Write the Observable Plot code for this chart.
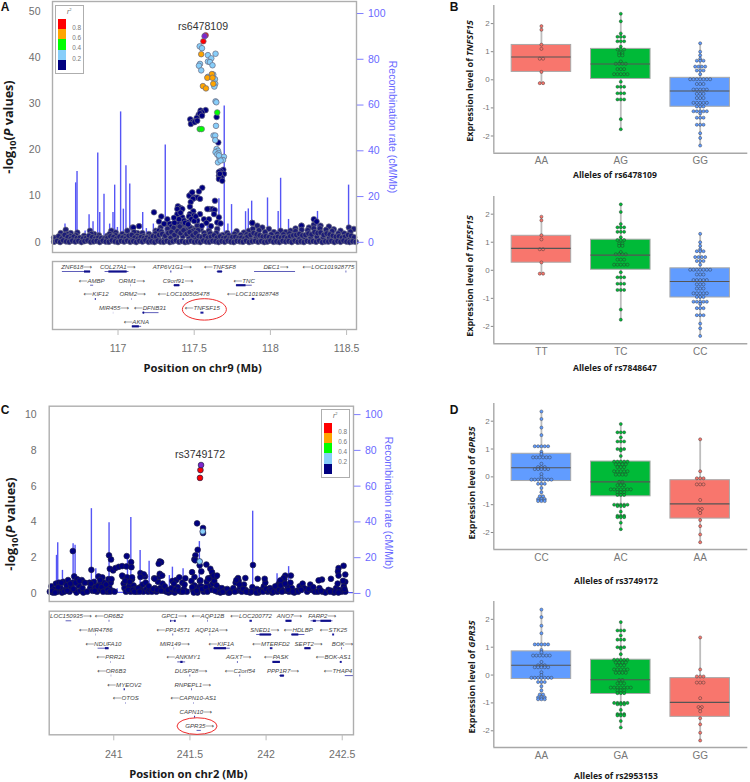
<!DOCTYPE html>
<html>
<head>
<meta charset="utf-8">
<script src="https://cdn.jsdelivr.net/npm/d3@7"></script>
<script src="https://cdn.jsdelivr.net/npm/@observablehq/plot@0.6"></script>
<style>
html,body{margin:0;padding:0;background:#fff}
#root{position:relative;width:750px;height:782px;overflow:hidden;font-family:"Liberation Sans",Arial,sans-serif}
#root svg{position:absolute;background:transparent;overflow:visible}
.t{position:absolute;white-space:nowrap;line-height:1}
</style>
</head>
<body>
<div id="root"></div>
<script>
// ---------- Locus A (chr9) ----------
const spikeAx=[116.652,116.722,116.731,116.784,116.81,116.836,116.867,116.88,116.908,116.945,116.967,116.978,116.996,117.017,117.035,117.052,117.077,117.162,117.186,117.232,117.31,117.531,117.586,117.662,117.697,117.721,117.745,117.837,117.855,117.877,117.981,118.051,118.067,118.119,118.309,118.513];
const spikeArate=[8,26,31,5,12,9,39,13,21,8,13,25,6.5,57,14.5,33.5,25.5,13,6,8,42.5,9.5,7,19,59.6,8,16.5,13.4,14.6,18,19.4,13.5,28,10,13.5,25];
const lowA=[[116.58,.1],[116.6,.3],[116.62,.05],[116.64,.4],[116.66,.2],[116.68,.1],[116.7,.35],[116.72,.15],[116.74,.3],[116.76,.05],[116.78,.25],[116.8,.4],[116.82,.1],[116.84,.2],[116.86,.3],[116.88,.05],[116.9,.35],[116.92,.15],[116.94,.1],[116.96,.4],[116.98,.2],[117,.05],[117.02,.3],[117.04,.15],[117.06,.35],[117.08,.1],[117.1,.25],[117.12,.05],[117.14,.3],[117.16,.15],[117.18,.4],[117.2,.1],[117.22,.2],[117.24,.05],[117.26,.35],[117.28,.15],[117.3,.1],[117.32,.3],[117.34,.05],[117.36,.2],[117.38,.4],[117.4,.1],[117.42,.25],[117.44,.05],[117.46,.15],[117.48,.3],[117.5,.1],[117.52,.2],[117.54,.05],[117.56,.35],[117.58,.15],[117.6,.1],[117.62,.3],[117.64,.2],[117.66,.05],[117.68,.25],[117.7,.1],[117.72,.35],[117.74,.15],[117.76,.05],[117.78,.3],[117.8,.2],[117.82,.1],[117.84,.35],[117.86,.05],[117.88,.2],[117.9,.3],[117.92,.1],[117.94,.25],[117.96,.05],[117.98,.15],[118,.35],[118.02,.1],[118.04,.2],[118.06,.05],[118.08,.3],[118.1,.15],[118.12,.25],[118.14,.05],[118.16,.35],[118.18,.1],[118.2,.2],[118.22,.05],[118.24,.3],[118.26,.15],[118.28,.25],[118.3,.1],[118.32,.35],[118.34,.05],[118.36,.2],[118.38,.15],[118.4,.3],[118.42,.05],[118.44,.25],[118.46,.1],[118.48,.35],[118.5,.15],[118.52,.05],[118.54,.2],[118.56,.1]];
const midA=[[116.59,.9],[116.61,1.3],[116.63,.8],[116.65,1.6],[116.67,1.1],[116.69,.8],[116.71,1.2],[116.73,.9],[116.75,1],[116.77,.8],[116.79,.9],[116.81,1.4],[116.83,1.1],[116.85,.8],[116.87,1],[116.89,.9],[116.91,.8],[116.93,.9],[116.95,1.3],[116.97,1.1],[116.99,.8],[117.01,1.2],[117.03,1],[117.05,.8],[117.07,1.4],[117.09,1.6],[117.11,1],[117.13,.8],[117.15,1.1],[117.17,.9],[117.19,1],[117.21,.8],[117.23,1.3],[117.25,1.2],[117.27,1.6],[117.29,1.8],[117.31,1.4],[117.33,2],[117.35,2.2],[117.37,1.6],[117.39,2.4],[117.41,2],[117.43,2.6],[117.45,1.8],[117.47,2.2],[117.49,1.5],[117.51,2],[117.53,1.3],[117.55,1.1],[117.57,1.4],[117.59,1],[117.61,1.2],[117.63,1.5],[117.65,1],[117.67,1.3],[117.69,.9],[117.71,1],[117.73,.8],[117.75,1.1],[117.77,1.2],[117.79,.9],[117.81,1],[117.83,.8],[117.85,1.2],[117.87,1.6],[117.89,2],[117.91,1.7],[117.93,1.5],[117.95,1.2],[117.97,1.3],[117.99,1.1],[118.01,.9],[118.03,1],[118.05,1.2],[118.07,1],[118.09,1.1],[118.11,.9],[118.13,1.3],[118.15,1.5],[118.17,1.6],[118.19,1.8],[118.21,1.5],[118.23,1.6],[118.25,1.9],[118.27,1.7],[118.29,2.2],[118.31,2],[118.33,2.1],[118.35,1.6],[118.37,1.9],[118.39,1.7],[118.41,1.4],[118.43,1.2],[118.45,1.3],[118.47,1],[118.49,1.2],[118.51,1.6],[118.53,1.4],[118.55,1.1]];
const fillA=[[116.585,.6],[116.605,.7],[116.625,1.2],[116.645,1],[116.665,1.8],[116.685,1.4],[116.705,.7],[116.725,1.5],[116.745,.6],[116.765,.7],[116.785,.6],[116.805,.8],[116.825,1.8],[116.845,.6],[116.865,.7],[116.885,.6],[116.905,.7],[116.925,.6],[116.945,1.8],[116.965,.7],[116.985,1.5],[117.005,.6],[117.025,.7],[117.045,1.3],[117.065,.7],[117.085,.7],[117.105,2.2],[117.125,1.4],[117.145,.6],[117.165,1.3],[117.185,.6],[117.205,1.2],[117.225,.7],[117.245,1.9],[117.265,.8],[117.285,2.3],[117.305,.8],[117.325,2.9],[117.345,1],[117.365,3.1],[117.385,1.2],[117.405,3.4],[117.425,1.3],[117.445,2.6],[117.465,1],[117.485,2.4],[117.505,1],[117.525,2.6],[117.545,.8],[117.565,2],[117.585,.7],[117.605,1.9],[117.625,.8],[117.645,2],[117.665,.8],[117.685,1.6],[117.705,.6],[117.725,1.5],[117.745,.7],[117.765,1.8],[117.785,.6],[117.805,1.6],[117.825,.6],[117.845,1.7],[117.865,.8],[117.885,2.9],[117.905,1],[117.925,2.6],[117.945,1],[117.965,2.2],[117.985,.7],[118.005,1.7],[118.025,.6],[118.045,1.8],[118.065,.6],[118.085,1.7],[118.105,.6],[118.125,1.9],[118.145,.8],[118.165,2.4],[118.185,1],[118.205,2.7],[118.225,1],[118.245,2.6],[118.265,1],[118.285,3],[118.305,1.2],[118.325,3],[118.345,1],[118.365,2.7],[118.385,1],[118.405,2.4],[118.425,.7],[118.445,1.9],[118.465,.7],[118.485,1.9],[118.505,.7],[118.525,2.3],[118.545,.7]];
const topA=[[116.58,1],[116.624,2],[116.657,2.7],[116.69,2],[116.733,2.1],[116.777,1.4],[116.816,2.5],[116.843,1.8],[116.875,1.5],[116.93,1.4],[116.956,2.5],[116.985,2.1],[117.028,1.8],[117.061,2.5],[117.094,3.2],[117.127,2],[117.16,2],[117.203,1.8],[117.247,2.5],[117.28,3.2],[117.324,3.9],[117.367,4],[117.411,4.2],[117.455,3.6],[117.487,3],[117.52,3.6],[117.542,2.8],[117.597,2.5],[117.651,2.9],[117.717,2],[117.778,2.4],[117.826,2.1],[117.859,2.5],[117.881,4.2],[117.914,3.6],[117.947,3.2],[117.99,2.9],[118.023,2.2],[118.067,2.5],[118.1,2.2],[118.132,2.5],[118.165,3],[118.204,3.6],[118.253,3.2],[118.285,3.8],[118.329,3.6],[118.384,3.4],[118.416,2.8],[118.46,2.5],[118.515,3.2],[118.548,2.9],[117.34,3],[117.38,3.2],[117.42,3.4],[117.44,2.9],[117.47,3.3],[117.5,2.6],[117.4,2.8],[117.36,2.7]];
const navyA=[[118.285,5],[118.303,4.5],[118.204,3.6],[117.881,4.2],[117.553,11.8],[117.531,11],[117.481,10.5],[117.468,10.1],[117.487,10.8],[117.505,9.7],[117.52,9.7],[117.538,9.4],[117.492,9.4],[117.636,9],[117.477,8.7],[117.472,7.7],[117.393,7.8],[117.411,7.4],[117.422,7.2],[117.389,7.2],[117.597,7.2],[117.619,7.2],[117.634,7],[117.586,7.2],[117.494,6.7],[117.236,6.5],[117.472,6.1],[117.538,6.1],[117.498,5.8],[117.466,5.6],[117.284,5.6],[117.389,6.1],[117.367,5.3],[117.324,5],[117.269,4.5],[117.662,5.4],[117.564,5],[117.597,5],[117.63,6.1],[117.481,5],[117.422,5.4],[117.433,4.7],[117.389,4.3],[117.302,4],[117.651,4.3],[117.673,4.1],[117.455,4.3],[117.52,4.7],[117.341,4],[117.138,3.5],[117.101,3.2],[117.269,2.5],
[117.691,15.7],[117.673,15.4],[117.662,15.2],[117.695,14.8],[117.662,14.4],[117.678,14.1],[117.662,13.7],[117.684,13.3],[117.668,14.8],
[117.575,28.6],[117.542,28.5],[117.551,28.1],[117.529,27.6],[117.538,27.9],[117.516,26.9],[117.551,27.4],[117.503,26.2],[117.474,26.6],[117.487,26],[117.478,25.6],[117.503,26],[117.52,26.3],[117.647,27.1],[117.658,21.6],
[117.4,5],[117.41,6.4],[117.44,4.2],[117.46,3.9],[117.5,4.6],[117.51,5.6],[117.55,3.6],[117.58,4.2],[117.61,3.5],[117.35,3.4],[117.37,4.2]];
const skyA=[[117.536,42.4],[117.551,42],[117.59,40.5],[117.64,40.8],[117.612,39.8],[117.59,39.1],[117.603,39],[117.62,38.3],[117.538,38.6],[117.531,38.2],[117.546,37.2],[117.625,36.3],[117.59,35.8],[117.636,35.3],[117.638,34.3],[117.632,33.7],[117.64,30.5],[117.645,30.3],[117.643,25.2],[117.627,23.1],[117.638,23.1],[117.638,22.1],[117.647,20.2],[117.656,19.8],[117.64,19.5],[117.66,19.3],[117.651,19],[117.665,18.4],[117.695,18.5],[117.689,17.8],[117.669,18],[117.656,17.3],[117.673,17.7],[117.662,18.8]];
const orangeA=[[117.546,40.7],[117.616,36.4],[117.586,35.6],[117.62,35.6],[117.625,34.3],[117.557,33.8],[117.577,33.3]];
const greenA=[[117.651,28.1],[117.536,24.5],[117.549,24.5]];
const redA=[[117.575,44.8],[117.56,43.5]];
const leadA=[[117.568,44.6]];

const geneNameA=["ZNF618","COL27A1","ATP6V1G1","TNFSF8","DEC1","LOC101928775","AMBP","ORM1","C9orf91","TNC","KIF12","ORM2","LOC100505478","LOC101928748","MIR455","DFNB31","TNFSF15","AKNA"];
const geneDirA=[1,1,1,-1,1,-1,-1,1,1,-1,-1,1,-1,-1,1,-1,-1,-1];
const geneRowA=[0,0,0,0,0,0,1,1,1,1,2,2,2,2,3,3,3,4];
const geneLabelA=[116.729,116.998,117.356,117.669,118.036,118.381,116.827,117.09,117.393,117.828,116.856,117.096,117.431,117.885,116.974,117.21,117.553,117.12];
const geneStartA=[116.635,116.915,117.347,117.651,117.896,118.497,116.82,117.084,117.367,117.776,116.851,117.089,117.427,117.881,116.97,117.162,117.544,117.094];
const geneEndA=[116.821,117.072,117.353,117.688,118.165,118.501,116.84,117.086,117.411,117.881,116.857,117.091,117.433,117.898,116.971,117.269,117.564,117.155];
const exonA=[[0,116.78,116.82],[0,116.94,117.06],[0,117.655,117.685],[1,117.778,117.84],[3,117.165,117.175],[4,117.094,117.14],[1,117.37,117.405]];

// ---------- Locus C (chr2) ----------
const spikeCx=[240.624,240.632,240.663,240.733,240.746,240.853,240.882,240.969,241.022,241.09,241.112,241.173,241.232,241.302,241.365,241.385,241.455,241.562,241.912,242.072,242.148];
const spikeCrate=[21.3,28.4,12.9,27.8,26.9,47.4,13.8,39.6,2.6,21.3,42.4,24,18,12,10,14.7,13.8,29,46,11,15];
const navyC=[[240.58,.1],[240.59,.4],[240.6,.05],[240.61,.25],[240.62,.55],[240.63,.1],[240.64,.6],[240.65,.3],[240.66,.05],[240.67,.65],[240.68,.2],[240.69,.45],[240.7,.75],[240.71,.1],[240.72,.35],[240.73,.6],[240.74,.95],[240.745,.2],[240.755,.05],[240.76,.8],[240.77,.45],[240.78,.15],[240.79,.75],[240.8,.05],[240.84,.6],[240.845,.3],[240.86,.15],[240.87,.65],[240.88,.35],[240.89,.1],[240.9,.95],[240.905,.5],[240.915,.2],[240.925,.9],[240.935,.6],[240.945,.25],[240.955,.1],[240.965,.8],[240.97,.35],[240.98,.6],[240.99,.15],[241.06,.95],[241.065,.55],[241.07,.3],[241.08,.1],[241.09,.85],[241.1,.4],[241.11,.1],[241.12,.8],[241.13,.45],[241.14,.25],[241.15,.1],[241.175,.35],[241.185,.15],[241.195,.1],[241.205,.95],[241.215,.25],[241.225,.1],[241.235,.2],[241.25,.1],[241.265,.85],[241.27,.3],[241.28,.1],[241.29,.65],[241.3,.95],[241.305,.3],[241.32,.55],[241.33,.15],[241.345,.1],[241.36,.05],[241.375,.1],[241.385,.7],[241.39,.25],[241.4,.05],[241.41,.75],[241.42,.35],[241.43,.9],[241.44,.1],[241.45,.6],[241.46,.25],[241.47,.85],[241.48,.1],[241.51,.7],[241.52,.2],[241.53,.45],[241.55,.05],[241.56,.35],[241.565,.7],[241.575,.4],[241.59,.1],[241.6,.2],[241.61,.65],[241.62,.85],[241.63,.4],[241.64,.9],[241.65,.55],[241.66,.7],[241.67,.95],[241.68,.1],[241.69,.3],[241.7,.05],[241.71,.3],[241.72,.1],[241.735,.2],[241.75,.05],[241.77,.15],[241.785,.3],[241.8,.6],[241.81,.15],[241.82,.7],[241.83,.35],[241.84,.1],[241.855,.5],[241.865,.2],[241.88,.1],[241.895,.05],[241.91,.35],[241.925,.15],[241.94,.25],[241.95,.05],[241.97,.2],[241.985,.4],[241.995,.6],[242.01,.1],[242.025,.3],[242.04,.05],[242.055,.2],[242.07,.35],[242.08,.5],[242.09,.65],[242.1,.25],[242.11,.55],[242.12,.8],[242.13,.15],[242.14,.4],[242.15,.1],[242.17,.3],[242.185,.05],[242.2,.15],[242.22,.4],[242.24,.55],[242.25,.3],[242.27,.1],[242.29,.5],[242.3,.2],[242.32,.1],[242.35,.3],[242.37,.1],[242.39,.05],[242.41,.2],[242.43,.15],[242.445,.05],[242.46,.3],[242.47,.55],[242.48,.2],[242.495,.1],[242.51,.4],[242.52,.65],[242.52,.1],
[240.731,2.37],[240.853,1.32],[240.969,2.13],[240.982,1.9],[240.974,1.38],[240.996,1.29],[241.011,1.42],[241.033,1.49],[241.055,1.53],[241.085,2.09],[241.083,1.51],[241.114,1.75],[241.116,1.47],[241.055,1],[241.088,.9],[241.12,.9],[241.175,1.14],[241.197,1.07],[241.175,.92],[241.302,1.79],[241.311,1.75],[241.295,1.66],[241.302,1.1],[241.318,1],[241.27,.82],[241.547,3.92],[241.586,3.66],[241.586,3.38],[241.551,2.44],[241.536,2.13],[241.529,1.9],[241.535,1.85],[241.564,1.57],[241.608,1.62],[241.575,1.23],[241.634,1.38],[241.645,1.19],[241.514,1.19],[241.53,.92],[241.656,1],[241.678,1],[241.569,.73],[241.623,.82],[241.914,1.59],[242.509,1.55],[242.476,1.42],[242.472,1.23],[242.52,1.06],[242.476,1],[242.426,.82],[242.367,.78],[242.345,.73],[242.163,1],[242.126,1],[242.115,.86],[242.094,.73],[241.991,.82],[241.945,.82],[241.864,.86],[241.816,.86],[241.805,.75],
[240.595,.15],[240.615,.05],[240.635,.35],[240.655,.6],[240.675,.1],[240.695,.15],[240.715,.55],[240.735,.25],[240.75,.6],[240.775,.7],[240.795,.3],[240.81,.6],[240.825,.1],[240.85,.55],[240.875,.15],[240.895,.4],[240.91,.75],[240.92,.35],[240.93,.1],[240.95,.5],[240.96,.2],[240.975,.1],[240.985,.8],[241.005,.1],[241.075,.7],[241.095,.2],[241.105,.65],[241.125,.2],[241.135,.1],[241.16,.3],[241.17,.1],[241.19,.5],[241.21,.6],[241.23,.4],[241.26,.25],[241.285,.2],[241.31,.15],[241.335,.4],[241.355,.2],[241.38,.3],[241.395,.55],[241.405,.2],[241.425,.15],[241.455,.1],[241.465,.5],[241.515,.35],[241.525,.05],[241.545,.15],[241.58,.25],[241.605,.35],[241.615,.1],[241.645,.2],[241.665,.15],[241.675,.45],[241.715,.1],[241.745,.25],[241.76,.05],[241.795,.1],[241.825,.5],[241.85,.25],[241.87,.1],[241.905,.1],[241.935,.05],[241.96,.15],[241.98,.1],[242.0,.25],[242.02,.15],[242.035,.2],[242.05,.1],[242.06,.4],[242.075,.1],[242.085,.2],[242.095,.45],[242.105,.1],[242.125,.55],[242.145,.2],[242.16,.6],[242.175,.1],[242.21,.1],[242.23,.2],[242.28,.25],[242.31,.35],[242.34,.1],[242.36,.15],[242.42,.1],[242.455,.1],[242.475,.05],[242.505,.7],[242.515,.25]];
const skyC=[[241.584,3.47],[241.564,1.79]];
const redC=[[241.569,6.9],[241.566,6.46]];
const leadC=[[241.573,7.18]];
const lowLineCx=[240.58,240.8,240.98,241.01,241.3,241.6,241.8,242.2,242.57];
const lowLineCrate=[.8,5.5,1.2,.6,.8,3,1,.8,.5];

const geneNameC=["LOC150935","OR6B2","GPC1","AQP12B","LOC200772","ANO7","FARP2","MIR4786","PP14571","AQP12A","SNED1","HDLBP","STK25","NDUFA10","MIR149","KIF1A","MTERFD2","SEPT2","BOK","PRR21","ANKMY1","AGXT","PASK","BOK-AS1","OR6B3","DUSP28","C2orf54","PPP1R7","THAP4","MYEOV2","RNPEPL1","OTOS","CAPN10-AS1","CAPN10","GPR35"];
const geneDirC=[1,-1,1,-1,-1,1,1,-1,-1,1,1,-1,-1,-1,1,-1,-1,1,1,-1,-1,1,-1,-1,-1,1,-1,1,-1,-1,1,-1,-1,1,1];
const geneRowC=[0,0,0,0,0,0,0,1,1,1,1,1,1,2,2,2,2,2,2,3,3,3,3,3,4,4,4,4,4,5,5,6,6,7,8];
const geneLabelC=[240.718,240.969,241.396,241.619,241.901,242.153,242.369,240.882,241.391,241.641,241.991,242.212,242.443,240.932,241.4,241.706,242.032,242.279,242.502,240.98,241.457,241.82,242.067,242.441,240.985,241.507,241.829,242.111,242.472,241.07,241.518,241.079,241.523,241.538,241.564];
const geneStartC=[240.687,240.97,241.374,241.618,241.894,242.131,242.295,240.883,241.389,241.633,241.938,242.168,242.437,240.897,241.397,241.656,242.028,242.253,242.498,240.981,241.42,241.812,242.045,242.487,240.984,241.501,241.829,242.089,242.52,241.068,241.512,241.08,241.524,241.531,241.547];
const geneEndC=[240.724,240.974,241.409,241.621,241.91,242.17,242.439,240.885,241.393,241.636,242.039,242.255,242.45,240.969,241.399,241.765,242.045,242.295,242.502,240.983,241.472,241.816,242.094,242.5,240.986,241.505,241.833,242.122,242.575,241.076,241.516,241.082,241.526,241.537,241.575];
const exonC=[[0,241.374,241.38],[0,241.4,241.409],[0,242.131,242.17],[0,242.31,242.33],[0,242.36,242.43],[1,241.96,242.035],[1,242.17,242.215],[2,240.945,240.969],[2,241.66,241.74],[2,242.255,242.295],[3,241.44,241.455],[3,242.045,242.094],[4,242.095,242.12]];

const ticksA=[117,117.5,118,118.5];
const ticksC=[241,241.5,242,242.5];
const rateTicks=[0,20,40,60,80,100];
const legendColors=["#ff0000","#ffa500","#00ff00","#87cefa","#000080"];
const legendLabels=["0.8","0.6","0.4","0.2"];

// ---------- Expression panels ----------
const redColor="#f8766d", greenColor="#00ba38", blueColor="#619cff";
const tnfAA=[1.91,1.78,1.25,1.1,.75,.75,.28,-.12,-.12];
const tnfAG=[2.35,2.08,1.65,1.53,1.53,1.53,1.37,1.37,1.37,1.18,1.08,1.08,1.08,.95,.95,.87,.87,.65,.57,.57,.57,.57,.38,.38,.38,.2,.2,.2,.2,.2,-.07,-.25,-.25,-.25,-.48,-.48,-.48,-.7,-.7,-.7,-1.4,-1.76];
const tnfGG=[1.3,1,.87,.75,.68,.68,.68,.47,.47,.47,.47,.33,.33,.33,.2,.02,.02,.02,.02,.02,.02,.02,-.15,-.15,-.15,-.35,-.35,-.35,-.35,-.35,-.5,-.5,-.5,-.65,-.65,-.65,-.82,-.82,-.82,-.82,-.82,-.95,-.95,-.95,-1.12,-1.12,-1.12,-1.12,-1.12,-1.2,-1.35,-1.35,-1.35,-1.6,-1.6,-1.6,-1.9,-2.07,-2.34];
const gprCC=[2.35,2.08,1.77,1.5,1.1,1.1,1.1,1.1,1.1,.9,.82,.7,.7,.7,.7,.7,.7,.47,.35,.35,.35,.28,.28,.28,.28,.28,.1,0,-.1,-.1,-.1,-.1,-.1,-.1,-.1,-.25,-.25,-.25,-.4,-.55,-.7,-.7,-.8,-.8,-.8,-.87,-.87,-.87];
const gprAC=[1.9,1.6,1.6,1.6,1.42,1.27,1.27,1.27,1,1,1,.95,.75,.55,.55,.55,.55,.55,.45,.45,.45,.45,.35,.35,.35,.2,.2,.2,.2,.2,.08,.08,.08,.08,-.18,-.18,-.3,-.3,-.3,-.45,-.45,-.45,-.45,-.45,-.45,-.45,-.55,-.55,-.55,-.65,-.65,-.65,-1,-1,-1,-1,-1,-1.05,-1.05,-1.05,-1.25,-1.4,-1.4,-1.4,-1.45,-1.45,-1.45,-1.65,-1.88];
const gprAA=[1.35,.2,-.05,-.05,-.05,-.27,-.27,-.27,-.83,-1.15,-1.15,-1.2,-1.3,-1.55,-1.77,-2.07,-2.35];

const b1Cats=["AA","AG","GG"], b2Cats=["TT","TC","CC"], d1Cats=["CC","AC","AA"], d2Cats=["AA","GA","GG"];
const b1Q1=[.28,.03,-.96], b1Med=[.81,.56,-.4], b1Q3=[1.24,1.1,.07];
const b2Q1=[.27,.02,-.97], b2Med=[.78,.54,-.4], b2Q3=[1.23,1.09,.07];
const d1Q1=[-.15,-.7,-1.5], d1Med=[.33,-.18,-.97], d1Q3=[.83,.55,-.12];
const d2Q1=[-.14,-.68,-1.5], d2Med=[.35,-.17,-.98], d2Q3=[.85,.55,-.11];
const yTicks=[-2,-1,0,1,2];

// ---------- helpers ----------
const root=document.getElementById("root");
const SANS='"Liberation Sans","DejaVu Sans",sans-serif';
const HEAD='"Open Sans",Lato,sans-serif';
function place(svg,left,top){svg.style.left=left+"px";svg.style.top=top+"px";root.appendChild(svg);return svg;}
function label(html,x,y,o={}){
  const d=document.createElement("div");d.className="t";d.innerHTML=html;
  d.style.left=x+"px";d.style.top=y+"px";
  d.style.fontSize=(o.size||10)+"px";d.style.fontFamily=o.font||SANS;
  d.style.fontWeight=o.weight||400;d.style.color=o.color||"#222";
  d.style.transform=`translate(-50%,-50%) rotate(${o.rotate||0}deg)`;
  root.appendChild(d);return d;
}
const table=(pairs)=>pairs.map(([x,y])=>({x,y}));

function locus(o){
  const k=o.k;
  const spikes=o.spikeX.map((x,i)=>({x,y:o.spikeRate[i]*k}));
  const dotsOpt=(f)=>({x:"x",y:"y",r:o.r,fill:f,stroke:o.dotStroke,strokeWidth:.7});
  const marks=[
    Plot.ruleX(spikes,{x:"x",y1:0,y2:"y",stroke:"#5555f5",strokeWidth:1.4}),
    o.lowLine?Plot.line(o.lowLine.x.map((x,i)=>({x,y:o.lowLine.rate[i]*k})),{x:"x",y:"y",stroke:"#5555f5",strokeWidth:1.2}):null,
    ...o.groups.map(([d,f])=>Plot.dot(table(d),dotsOpt(f))),
    Plot.frame({stroke:"#aeaeae",strokeWidth:1.4}),
    Plot.axisY({anchor:"left",ticks:o.yTicks,tickSize:0,tickPadding:o.pad,fontSize:10.5,label:null,tickFormat:d=>d,fill:"#6e6e6e"}),
    Plot.axisY({anchor:"right",ticks:rateTicks.map(r=>r*k),tickSize:6.5,tickPadding:5,fontSize:10.5,stroke:"#7f7fff",fill:"#6a6aff",label:null,tickFormat:d=>Math.round(d/k)})
  ];
  const p=Plot.plot({width:o.w,height:o.h,marginLeft:o.ml,marginRight:o.w-o.ml-o.fw,marginTop:o.mt,marginBottom:o.h-o.mt-o.fh,
    x:{domain:o.xDomain,axis:null},y:{domain:o.yDomain,axis:null},style:{fontFamily:SANS,background:"transparent"},marks});
  place(p,o.left,o.top);
}
function genes(o){
  const rows=o.name.map((n,i)=>({n,row:o.row[i],c:o.label[i],s:o.start[i],e:o.end[i],
    txt:o.dir[i]>0?n+"\u27F6":"\u27F5"+n}));
  const ex=o.exon.map(([row,s,e])=>({row,s,e}));
  const p=Plot.plot({width:o.w,height:o.h,marginLeft:o.ml,marginRight:o.w-o.ml-o.fw,marginTop:o.mt,marginBottom:o.h-o.mt-o.fh,
    x:{domain:o.xDomain,axis:null},y:{domain:o.yDomain,axis:null},style:{fontFamily:SANS,background:"transparent"},
    marks:[
      Plot.ruleY(rows,{y:"row",x1:"s",x2:"e",stroke:"#1a1a9c",strokeWidth:d=>(d.e-d.s)<.02?2:.7}),
      Plot.ruleY(ex,{y:"row",x1:"s",x2:"e",stroke:"#10108c",strokeWidth:2.2}),
      Plot.text(rows,{x:"c",y:"row",text:"txt",dy:-4.6,fontSize:6.1,fontStyle:"italic",fill:"#444",fontFamily:SANS}),
      Plot.frame({stroke:"#aeaeae",strokeWidth:1.4}),
      Plot.axisX({ticks:o.ticks,tickSize:6,tickPadding:o.pad,fontSize:10.5,stroke:"#bbb",fill:"#6e6e6e",label:null,tickFormat:d=>d})
    ]});
  place(p,o.left,o.top);
  d3.select(p).append("ellipse").attr("cx",p.scale("x").apply(o.ellipse[0])).attr("cy",p.scale("y").apply(o.ellipse[1]))
    .attr("rx",o.ellipse[2]).attr("ry",o.ellipse[3]).attr("fill","none").attr("stroke","#ee2b2b").attr("stroke-width",1);
}
function legend(x,y){
  const box=document.createElement("div");
  box.style.cssText=`position:absolute;left:${x}px;top:${y}px;width:27px;height:67px;border:1.4px solid #aeaeae;background:#fff;box-sizing:content-box`;
  legendColors.forEach((c,i)=>{
    const s=document.createElement("div");
    s.style.cssText=`position:absolute;left:2px;top:${12.5+i*10.3}px;width:8.4px;height:10.3px;background:${c}`;
    box.appendChild(s);
  });
  root.appendChild(box);
  label("<i>r</i><sup style='font-size:4px'>2</sup>",x+14.5,y+6.5,{size:6.5,color:"#666"});
  legendLabels.forEach((t,i)=>label(t,x+22,y+22.5+i*10.3,{size:6.4,color:"#777"}));
}
function boxPanel(o){
  const colors=o.colors;
  const boxes=o.cats.map((c,i)=>({i,q1:o.q1[i],q3:o.q3[i],med:o.med[i],fill:colors[i],lo:d3.min(o.values[i]),hi:d3.max(o.values[i])}));
  const dots=[];
  o.values.forEach((vals,i)=>{
    const byV=d3.group(vals,v=>v);
    for(const [v,list] of byV){
      list.forEach((_,j)=>dots.push({x:i+(j-(list.length-1)/2)*.042,y:v,fill:colors[i]}));
    }
  });
  const p=Plot.plot({width:290,height:o.bottom-o.topPx+24,marginLeft:33.3,marginRight:2.7,marginTop:3,marginBottom:21,
    x:{domain:[-.6,2.6],axis:null},y:{domain:o.yDomain,axis:null},style:{fontFamily:SANS,background:"transparent"},
    marks:[
      Plot.ruleX(boxes,{x:"i",y1:"lo",y2:"hi",stroke:"#bdbdbd",strokeWidth:1.8}),
      Plot.rect(boxes,{x1:d=>d.i-.375,x2:d=>d.i+.375,y1:"q1",y2:"q3",fill:"fill",stroke:"#a8a8a8",strokeWidth:1}),
      Plot.dot(dots,{x:"x",y:"y",r:1.55,fill:"fill",stroke:"#2b2b2b",strokeWidth:.55,strokeOpacity:.75}),
      Plot.ruleY(boxes,{x1:d=>d.i-.375,x2:d=>d.i+.375,y:"med",stroke:"#555",strokeWidth:1.1}),
      Plot.ruleX([-.6],{stroke:"#a8a8a8",strokeWidth:1.4}),
      Plot.ruleY([o.yDomain[0]],{stroke:"#a8a8a8",strokeWidth:1.4}),
      Plot.axisY({ticks:yTicks,tickSize:2.5,tickPadding:1.5,fontSize:8,stroke:"#888",fill:"#777",label:null,tickFormat:d=>d}),
      Plot.axisX({ticks:[0,1,2],tickSize:0,tickPadding:4,fontSize:10,fill:"#777",label:null,tickFormat:i=>o.cats[i]})
    ]});
  place(p,460,o.topPx-3);
}

// ---------- Panel A ----------
locus({left:0,top:0,w:400,h:256,ml:52,fw:304,mt:1,fh:251,xDomain:[116.57,118.565],yDomain:[-2.2,52.1],k:.495,r:2.8,dotStroke:"#6a6a80",pad:12,
  spikeX:spikeAx,spikeRate:spikeArate,yTicks:[0,10,20,30,40,50],
  groups:[[topA,"#1c1c78"],[navyA,"#000080"],[fillA,"#1c1c78"],[midA,"#1c1c78"],[lowA,"#1c1c78"],[skyA,"#87cefa"],[orangeA,"#ffa500"],[greenA,"#00ff00"],[redA,"#ff0000"],[leadA,"#7d26cd"]]});
genes({left:0,top:255,w:400,h:110,ml:52,fw:304,mt:6,fh:68,xDomain:[116.57,118.565],yDomain:[4.23,-.73],ticks:ticksA,pad:9,
  name:geneNameA,dir:geneDirA,row:geneRowA,label:geneLabelA,start:geneStartA,end:geneEndA,exon:exonA,ellipse:[117.57,2.8,22,10.7]});
legend(54.7,5.3);
label("rs6478109",203,25.7,{size:10.6,color:"#333"});
label("-log<sub style='font-size:.72em'>10</sub>(<i>P</i> values)",10,127,{rotate:-90,font:HEAD,weight:700,size:12.6,color:"#1a1a1a"});
label("Recombination rate (cM/Mb)",393,127,{rotate:90,size:10.5,color:"#6a6aff"});
label("Position on chr9 (Mb)",202.7,368.3,{font:HEAD,weight:700,size:11.2,color:"#1a1a1a"});
label("A",5,7,{weight:700,size:12,color:"#111"});

// ---------- Panel C ----------
locus({left:0,top:400,w:400,h:206,ml:48.7,fw:304.3,mt:5.7,fh:195.3,xDomain:[240.576,242.574],yDomain:[-.45,10.47],k:.1,r:2.85,dotStroke:"#20204a",pad:12.5,
  spikeX:spikeCx,spikeRate:spikeCrate,yTicks:[0,2,4,6,8,10],lowLine:{x:lowLineCx,rate:lowLineCrate},
  groups:[[navyC,"#000080"],[skyC,"#87cefa"],[redC,"#ff0000"],[leadC,"#7d26cd"]]});
genes({left:0,top:605,w:400,h:158,ml:48.7,fw:304.3,mt:5.7,fh:123.6,xDomain:[240.576,242.574],yDomain:[8.32,-.7],ticks:ticksC,pad:10,
  name:geneNameC,dir:geneDirC,row:geneRowC,label:geneLabelC,start:geneStartC,end:geneEndC,exon:exonC,ellipse:[241.55,7.72,20,8.3]});
legend(320.7,409);
label("rs3749172",200,454,{size:10.6,color:"#333"});
label("-log<sub style='font-size:.72em'>10</sub>(<i>P</i> values)",12,524,{rotate:-90,font:HEAD,weight:700,size:12.6,color:"#1a1a1a"});
label("Recombination rate (cM/Mb)",389,503,{rotate:90,size:10.5,color:"#6a6aff"});
label("Position on chr2 (Mb)",188.3,774.3,{font:HEAD,weight:700,size:11.2,color:"#1a1a1a"});
label("C",5,409.5,{weight:700,size:12,color:"#111"});

// ---------- Panels B, D ----------
boxPanel({topPx:5,bottom:152.7,yDomain:[-2.612,2.644],cats:b1Cats,colors:[redColor,greenColor,blueColor],values:[tnfAA,tnfAG,tnfGG],q1:b1Q1,med:b1Med,q3:b1Q3});
boxPanel({topPx:196,bottom:343.3,yDomain:[-2.62,2.63],cats:b2Cats,colors:[redColor,greenColor,blueColor],values:[tnfAA,tnfAG,tnfGG],q1:b2Q1,med:b2Med,q3:b2Q3});
boxPanel({topPx:403.3,bottom:549.3,yDomain:[-2.61,2.636],cats:d1Cats,colors:[blueColor,greenColor,redColor],values:[gprCC,gprAC,gprAA],q1:d1Q1,med:d1Med,q3:d1Q3});
boxPanel({topPx:601,bottom:747,yDomain:[-2.6,2.64],cats:d2Cats,colors:[blueColor,greenColor,redColor],values:[gprCC,gprAC,gprAA],q1:d2Q1,med:d2Med,q3:d2Q3});

const ylab={font:HEAD,weight:700,size:9,color:"#1a1a1a",rotate:-90};
const xlab={font:HEAD,weight:700,size:8.6,color:"#1a1a1a"};
label("Expression level of <i>TNFSF15</i>",469,81,ylab);
label("Expression level of <i>TNFSF15</i>",469,276.3,ylab);
label("Expression level of <i>GPR35</i>",470.7,483.3,ylab);
label("Expression level of <i>GPR35</i>",470.7,676.7,ylab);
label("Alleles of rs6478109",615,174.7,xlab);
label("Alleles of rs7848647",615,368,xlab);
label("Alleles of rs3749172",616,581,xlab);
label("Alleles of rs2953153",616,776,xlab);
label("B",454,6.5,{weight:700,size:12,color:"#111"});
label("D",454,409.5,{weight:700,size:12,color:"#111"});
</script>
</body>
</html>
